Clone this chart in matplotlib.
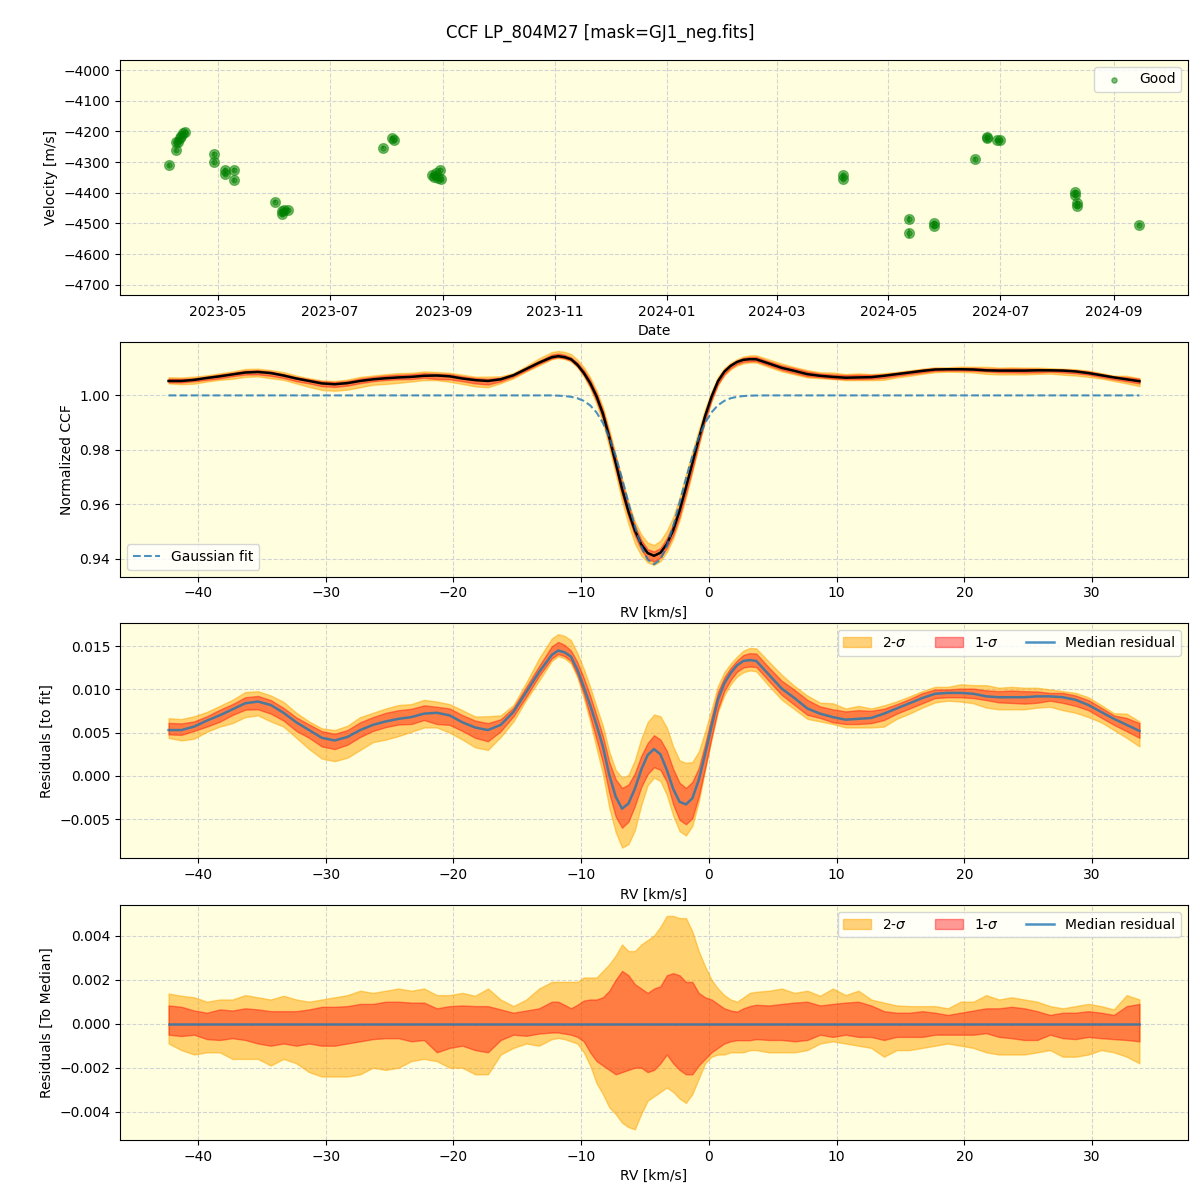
import numpy as np
import pandas as pd
import matplotlib
matplotlib.use("Agg")
import matplotlib.pyplot as plt
import matplotlib.dates as mdates

#
# Data
#

TITLE = "CCF LP_804M27 [mask=GJ1_neg.fits]"

# --- RV time series (top panel) ---
obs_dates = ["2023-04-04", "2023-04-08", "2023-04-08", "2023-04-09", "2023-04-10",
             "2023-04-11", "2023-04-12", "2023-04-13", "2023-04-29", "2023-04-29",
             "2023-05-05", "2023-05-05", "2023-05-10", "2023-05-10", "2023-06-01",
             "2023-06-05", "2023-06-05", "2023-06-06", "2023-06-08", "2023-07-30",
             "2023-08-04", "2023-08-05", "2023-08-26", "2023-08-27", "2023-08-28",
             "2023-08-29", "2023-08-30", "2023-08-31", "2024-04-06", "2024-04-06",
             "2024-05-12", "2024-05-12", "2024-05-26", "2024-05-26", "2024-06-17",
             "2024-06-24", "2024-06-24", "2024-06-29", "2024-07-01", "2024-08-11",
             "2024-08-11", "2024-08-12", "2024-08-12", "2024-09-15"]
velocity = [-4310, -4261, -4236, -4233, -4223, -4215, -4204, -4201, -4274, -4301,
            -4326, -4339, -4326, -4359, -4429, -4461, -4470, -4456, -4456, -4253,
            -4220, -4228, -4342, -4350, -4337, -4353, -4326, -4356, -4342, -4355,
            -4487, -4533, -4498, -4507, -4290, -4223, -4218, -4229, -4229, -4398,
            -4408, -4433, -4443, -4504]
velocity_err = [5, 6, 6, 5, 5, 5, 5, 5, 6, 6,
                6, 6, 6, 6, 5, 5, 6, 5, 5, 5,
                5, 5, 6, 6, 6, 6, 6, 6, 6, 6,
                12, 14, 7, 7, 6, 6, 6, 5, 5, 7,
                7, 7, 7, 5]

# --- CCF velocity grid: coarse wings, finer around the line ---
rv = np.round(np.concatenate([np.arange(-42.3, -12.2, 1.0),
                              np.arange(-11.8, 3.8, 0.5),
                              np.arange(4.7, 33.8, 1.0)]), 1)

# Gaussian fit to the median CCF
gauss_fit = ([1.0] * 31 +
             [0.9999, 0.99976, 0.99948, 0.99895, 0.99799, 0.99635, 0.99376, 0.9899,
              0.98454, 0.97765, 0.96948, 0.9606, 0.95196, 0.94465, 0.93973, 0.938,
              0.93973, 0.94465, 0.95196, 0.9606, 0.96948, 0.97765, 0.98454, 0.9899,
              0.99376, 0.99635, 0.99799, 0.99895, 0.99948, 0.99976, 0.9999, 0.99996] +
             [1.0] * 30)

# median residual (CCF - fit)
median_resid = [0.0053, 0.0053, 0.0057, 0.0064, 0.0070, 0.0077, 0.0084, 0.0086, 0.0082, 0.0073,
                0.0062, 0.0053, 0.0044, 0.0041, 0.0045, 0.0053, 0.0059, 0.0063, 0.0066, 0.0068,
                0.0072, 0.0073, 0.0070, 0.0062, 0.0056, 0.0053, 0.0059, 0.0074, 0.0097, 0.0120,
                0.0140,
                0.0145, 0.0143, 0.0138, 0.0123, 0.0103, 0.0082, 0.0059, 0.0034, 0.0001, -0.0024,
                -0.0038, -0.0032, -0.0015, 0.0007, 0.0024, 0.0031, 0.0025, 0.0007, -0.0015, -0.0030,
                -0.0033, -0.0026, -0.0005, 0.0025, 0.0057, 0.0088, 0.0107, 0.0119, 0.0128, 0.0133,
                0.0134, 0.0133,
                0.0117, 0.0101, 0.0090, 0.0078, 0.0072, 0.0068, 0.0065, 0.0066, 0.0067, 0.0072,
                0.0078, 0.0084, 0.0090, 0.0095, 0.0096, 0.0096, 0.0095, 0.0092, 0.0091, 0.0091,
                0.0091, 0.0092, 0.0092, 0.0091, 0.0088, 0.0082, 0.0074, 0.0066, 0.0059, 0.0052]

# spread of the individual CCFs around the median (2-sigma / 1-sigma bounds)
hi2 = [0.00137, 0.00127, 0.0012, 0.0010, 0.0011, 0.0011, 0.0013, 0.0012, 0.0011, 0.00127,
       0.0011, 0.0010, 0.0011, 0.0012, 0.0013, 0.0015, 0.0014, 0.0015, 0.0016, 0.0015,
       0.0016, 0.0013, 0.0013, 0.0014, 0.00127, 0.0016, 0.0011, 0.0008, 0.0011, 0.0016,
       0.0019,
       0.0019, 0.0019, 0.0019, 0.0019, 0.0021, 0.0021, 0.0021, 0.0024, 0.0027, 0.0031,
       0.0036, 0.0033, 0.0033, 0.0036, 0.0038, 0.0040, 0.0044, 0.0049, 0.0049, 0.0048,
       0.0048, 0.0042, 0.0033, 0.0026, 0.0020, 0.0016, 0.0013, 0.0011, 0.0010, 0.0012,
       0.0014, 0.00145,
       0.0015, 0.0016, 0.0014, 0.0015, 0.00127, 0.0016, 0.0013, 0.0015, 0.0011, 0.00096,
       0.00083, 0.0008, 0.0008, 0.0008, 0.0007, 0.0010, 0.0010, 0.0013, 0.0011, 0.0012,
       0.0011, 0.0010, 0.0008, 0.0007, 0.0008, 0.0009, 0.0008, 0.00065, 0.0013, 0.0011]
hi1 = [0.00083, 0.00077, 0.0006, 0.0005, 0.00065, 0.0006, 0.0007, 0.00065, 0.00057, 0.00057,
       0.00057, 0.00065, 0.00077, 0.00077, 0.0008, 0.0009, 0.0009, 0.0010, 0.0010, 0.00096,
       0.00096, 0.0007, 0.0008, 0.00083, 0.0008, 0.0008, 0.00065, 0.0005, 0.0006, 0.0007,
       0.0010,
       0.0010, 0.00086, 0.0007, 0.00086, 0.00105, 0.0011, 0.0011, 0.0012, 0.0015, 0.0020,
       0.0024, 0.0022, 0.0018, 0.0016, 0.0014, 0.0016, 0.0017, 0.0022, 0.0023, 0.0022,
       0.0019, 0.0019, 0.0014, 0.0012, 0.0011, 0.0009, 0.0007, 0.0006, 0.00055, 0.0007,
       0.0008, 0.00086,
       0.00083, 0.0009, 0.00096, 0.0010, 0.00083, 0.0009, 0.00096, 0.0010, 0.00083, 0.00057,
       0.0005, 0.0005, 0.00057, 0.0005, 0.0004, 0.0005, 0.0006, 0.0007, 0.0007, 0.00077,
       0.0007, 0.00057, 0.0004, 0.0005, 0.0005, 0.00057, 0.0005, 0.0004, 0.0008, 0.0009]
lo1 = [-0.0005, -0.00056, -0.0005, -0.0007, -0.00074, -0.00066, -0.00074, -0.0009, -0.0010, -0.0009,
       -0.0010, -0.0009, -0.0010, -0.0010, -0.0009, -0.0008, -0.0007, -0.00066, -0.00066, -0.0008,
       -0.00074, -0.0013, -0.0011, -0.0010, -0.0012, -0.0013, -0.00074, -0.0005, -0.00055, -0.00045,
       -0.0004,
       -0.0004, -0.00045, -0.0005, -0.0006, -0.0008, -0.0013, -0.0017, -0.0019, -0.0021, -0.0023,
       -0.0022, -0.0021, -0.0020, -0.0020, -0.0022, -0.0021, -0.0018, -0.0014, -0.0018, -0.0021,
       -0.0023, -0.0023, -0.0019, -0.0016, -0.0013, -0.0011, -0.0009, -0.0008, -0.00075, -0.00075,
       -0.00075, -0.0007,
       -0.00074, -0.00074, -0.0008, -0.00074, -0.0005, -0.0006, -0.0005, -0.0006, -0.0006, -0.00074,
       -0.0006, -0.0006, -0.0006, -0.0005, -0.0005, -0.0005, -0.0005, -0.00043, -0.0006, -0.00066,
       -0.00074, -0.00074, -0.0005, -0.00066, -0.0007, -0.0006, -0.00066, -0.0007, -0.00074, -0.0008]
lo2 = [-0.0009, -0.0012, -0.0014, -0.0013, -0.0013, -0.0016, -0.0016, -0.0016, -0.0019, -0.0016,
       -0.0018, -0.0022, -0.0024, -0.0024, -0.0024, -0.0023, -0.0020, -0.0021, -0.0020, -0.0017,
       -0.0016, -0.0017, -0.0020, -0.0020, -0.0023, -0.0023, -0.0014, -0.0011, -0.0009, -0.0010,
       -0.0007,
       -0.00065, -0.0007, -0.0008, -0.0009, -0.0013, -0.0019, -0.0027, -0.0032, -0.0038, -0.0041,
       -0.0045, -0.0047, -0.0048, -0.0041, -0.0035, -0.0033, -0.0031, -0.0029, -0.0031, -0.0034,
       -0.0036, -0.0032, -0.0025, -0.0018, -0.0015, -0.0014, -0.0014, -0.0013, -0.0013, -0.0013,
       -0.0012, -0.0012,
       -0.0013, -0.0013, -0.0013, -0.0012, -0.0009, -0.0008, -0.0009, -0.0010, -0.0011, -0.0015,
       -0.0012, -0.0012, -0.0011, -0.0010, -0.0009, -0.0010, -0.0011, -0.0013, -0.0014, -0.0014,
       -0.0014, -0.0013, -0.0012, -0.0015, -0.0015, -0.0014, -0.0012, -0.0013, -0.0015, -0.0018]

BG = 'lightyellow'
GRID_KW = dict(color='lightgray', linestyle='--', linewidth=0.8)


def bands(ax, centre, label=True):
    c = np.asarray(centre)
    ax.fill_between(rv, c + np.array(lo2), c + np.array(hi2), color='orange', alpha=0.5,
                    label=r'2-$\sigma$' if label else None)
    ax.fill_between(rv, c + np.array(lo1), c + np.array(hi1), color='red', alpha=0.4,
                    label=r'1-$\sigma$' if label else None)


def main():
    fig, axes = plt.subplots(4, 1, figsize=(12, 12), dpi=100)
    fig.subplots_adjust(left=0.1, right=0.99, top=0.95, bottom=0.05, hspace=0.2)
    fig.suptitle(TITLE, fontsize=12, y=0.98)

    for ax in axes:
        ax.set_facecolor(BG)
        ax.grid(True, **GRID_KW)
        ax.set_axisbelow(True)

    # top: RV time series
    ax = axes[0]
    t = pd.to_datetime(obs_dates)
    ax.errorbar(t, velocity, yerr=velocity_err, fmt='o', color='green', alpha=0.5, ms=7)
    ax.scatter(t, velocity, s=14, color='green', alpha=0.5, label='Good')
    ax.set_ylim(-4733, -3967)
    ax.set_yticks(np.arange(-4700, -3999, 100))
    ax.xaxis.set_major_locator(mdates.MonthLocator(bymonth=[1, 3, 5, 7, 9, 11]))
    ax.xaxis.set_major_formatter(mdates.DateFormatter('%Y-%m'))
    ax.set_xlabel('Date')
    ax.set_ylabel('Velocity [m/s]')
    ax.legend(loc='upper right')

    ccf = np.array(gauss_fit) + np.array(median_resid)

    # CCF with fit
    ax = axes[1]
    bands(ax, ccf, label=False)
    ax.plot(rv, ccf, color='black', lw=1.8)
    ax.plot(rv, gauss_fit, '--', color='C0', alpha=0.8, lw=1.5, label='Gaussian fit')
    ax.set_ylim(0.9335, 1.0197)
    ax.set_ylabel('Normalized CCF')
    ax.set_xlabel('RV [km/s]')
    ax.legend(loc='lower left')

    # residuals to the fit
    ax = axes[2]
    bands(ax, median_resid)
    ax.plot(rv, median_resid, color='C0', alpha=0.8, lw=1.8, label='Median residual')
    ax.set_ylabel('Residuals [to fit]')
    ax.set_xlabel('RV [km/s]')
    ax.legend(loc='upper right', ncol=3)

    # residuals to the median
    ax = axes[3]
    bands(ax, np.zeros(len(rv)))
    ax.plot(rv, np.zeros(len(rv)), color='C0', alpha=0.8, lw=1.8, label='Median residual')
    ax.set_ylabel('Residuals [To Median]')
    ax.set_xlabel('RV [km/s]')
    ax.legend(loc='upper right', ncol=3)

    fig.savefig('out.png', dpi=100)


main()
